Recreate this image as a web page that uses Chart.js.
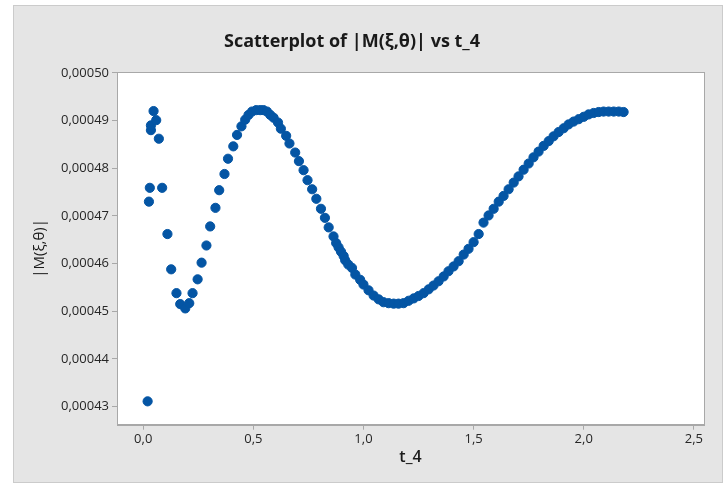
<!DOCTYPE html>
<html>
<head>
<meta charset="utf-8">
<title>Scatterplot of |M(ξ,θ)| vs t_4</title>
<script src="https://cdn.jsdelivr.net/npm/chart.js@4/dist/chart.umd.min.js"></script>
<style>
body{margin:0;background:#fff}
canvas{display:block}
</style>
</head>
<body>
<canvas id="scatterChart" width="724" height="485"></canvas>
<script>

// values

const tValues = [
0.020,0.026,0.030,0.035,0.035,0.047,0.059,0.071,0.086,0.110,
0.127,0.151,0.168,0.191,0.209,0.224,0.247,0.265,0.287,0.304,
0.328,0.345,0.369,0.385,0.409,0.426,0.446,0.463,0.478,
0.494,0.513,0.531,0.546,0.562,0.577,0.592,0.612,0.625,0.649,
0.664,0.690,0.707,0.728,0.746,0.767,0.786,0.807,0.825,0.842,
0.864,0.876,0.887,0.898,0.910,0.917,0.931,0.948,0.963,0.985,
1.000,1.023,1.046,1.069,1.091,1.114,1.137,1.159,1.182,1.205,
1.228,1.250,1.273,1.296,1.318,1.341,1.364,1.386,1.409,1.432,
1.455,1.477,1.500,1.523,
1.545,1.568,1.591,1.614,1.636,1.659,1.682,1.704,1.727,1.750,
1.772,1.795,1.818,1.841,1.863,1.886,1.909,1.931,1.954,1.977,
2.000,2.022,2.045,2.068,2.090,2.113,2.136,2.159,2.181
]

const mValues = [
0.0004311,0.0004730,0.0004759,0.0004880,0.0004890,0.0004920,0.0004901,0.0004862,0.0004759,0.0004662,
0.0004588,0.0004538,0.0004515,0.0004506,0.0004517,0.0004538,0.0004567,0.0004602,0.0004638,0.0004678,
0.0004717,0.0004754,0.0004788,0.0004820,0.0004846,0.0004870,0.0004888,0.0004902,0.0004912,
0.0004919,0.0004922,0.0004922,0.0004922,0.0004919,0.0004912,0.0004906,0.0004896,0.0004883,0.0004868,
0.0004852,0.0004833,0.0004815,0.0004796,0.0004775,0.0004756,0.0004736,0.0004715,0.0004696,0.0004676,
0.0004657,0.0004643,0.0004634,0.0004625,0.0004616,0.0004607,0.0004598,0.0004591,0.0004577,0.0004566,
0.0004556,0.0004544,0.0004533,0.0004525,0.0004519,0.0004517,0.0004516,0.0004516,0.0004517,0.0004522,
0.0004527,0.0004532,0.0004538,0.0004546,0.0004554,0.0004563,0.0004573,0.0004584,0.0004594,0.0004605,
0.0004619,0.0004631,0.0004645,0.0004662,
0.0004686,0.0004701,0.0004715,0.0004730,0.0004742,0.0004756,0.0004770,0.0004783,0.0004797,0.0004810,
0.0004823,0.0004835,0.0004847,0.0004857,0.0004867,0.0004876,0.0004884,0.0004892,0.0004898,0.0004903,
0.0004908,0.0004913,0.0004916,0.0004918,0.0004919,0.0004919,0.0004919,0.0004919,0.0004918
]

const xTicks = [0,0.5,1,1.5,2,2.5]
const yTicks = [0.00043,0.00044,0.00045,0.00046,0.00047,0.00048,0.00049,0.00050]

const points = tValues.map((t,i)=>({x:t,y:mValues[i]}))

const fontFamily = "'Open Sans','Noto Sans',sans-serif"
const frameColor = "#a8a8a8"


// grey panel, white data region and its frame

const panelPlugin = {

id:"panel",

beforeDraw(chart){

const c = chart.ctx
const a = chart.chartArea

c.save()

c.fillStyle = "#ffffff"
c.fillRect(0,0,chart.width,chart.height)

c.fillStyle = "#e5e5e5"
c.fillRect(13,5,709,477)

c.strokeStyle = "#cbcbcb"
c.lineWidth = 1
c.strokeRect(13.5,5.5,709,477)

c.fillStyle = "#ffffff"
c.fillRect(a.left,a.top,a.right-a.left,a.bottom-a.top)

c.restore()

},

beforeDatasetsDraw(chart){

const c = chart.ctx
const a = chart.chartArea

c.save()
c.strokeStyle = frameColor
c.lineWidth = 1
c.strokeRect(Math.round(a.left)+0.5,Math.round(a.top)+0.5,Math.round(a.right-a.left),Math.round(a.bottom-a.top))
c.restore()

}

}


const ctx = document.getElementById("scatterChart").getContext("2d")

const scatterChart = new Chart(ctx,{

type:"scatter",

data:{
datasets:[{

label:"|M(ξ,θ)|",

data:points,

backgroundColor:"#0455a4",

borderColor:"#0455a4",

pointRadius:4.6,

pointHoverRadius:4.6

}]
},

options:{

responsive:false,

animation:false,

devicePixelRatio:1,

layout:{
padding:{left:0,right:20,top:0,bottom:14}
},

plugins:{

legend:{display:false},

tooltip:{enabled:false},

title:{
display:true,
text:"Scatterplot of |M(ξ,θ)| vs t_4",
color:"#1a1a1a",
font:{family:fontFamily,size:18,weight:"bold"},
padding:{top:31,bottom:19.4}
}

},

scales:{

x:{
type:"linear",
min:-0.119,
max:2.546,
afterBuildTicks(scale){
scale.ticks = xTicks.map(v=>({value:v}))
},
afterFit(scale){
scale.height = 46.3
},
ticks:{
color:"#262626",
font:{family:fontFamily,size:13},
padding:2,
callback:v=>v.toFixed(1).replace(".",",")
},
grid:{
drawOnChartArea:false,
drawTicks:true,
tickLength:5,
color:frameColor
},
border:{display:true,color:frameColor},
title:{
display:true,
text:"t_4",
color:"#1a1a1a",
font:{family:fontFamily,size:16,weight:"600"},
padding:{top:4,bottom:4}
}
},

y:{
type:"linear",
min:0.0004262,
max:0.0005002,
afterBuildTicks(scale){
scale.ticks = yTicks.map(v=>({value:v}))
},
afterFit(scale){
scale.width = 117
},
ticks:{
color:"#262626",
font:{family:fontFamily,size:13},
padding:3,
callback:v=>v.toFixed(5).replace(".",",")
},
grid:{
drawOnChartArea:false,
drawTicks:true,
tickLength:5,
color:frameColor
},
border:{display:true,color:frameColor},
title:{
display:true,
text:"|M(ξ,θ)|",
color:"#1a1a1a",
font:{family:fontFamily,size:15},
padding:{top:31,bottom:4}
}
}

}

},

plugins:[panelPlugin]

})

</script>
</body>
</html>
